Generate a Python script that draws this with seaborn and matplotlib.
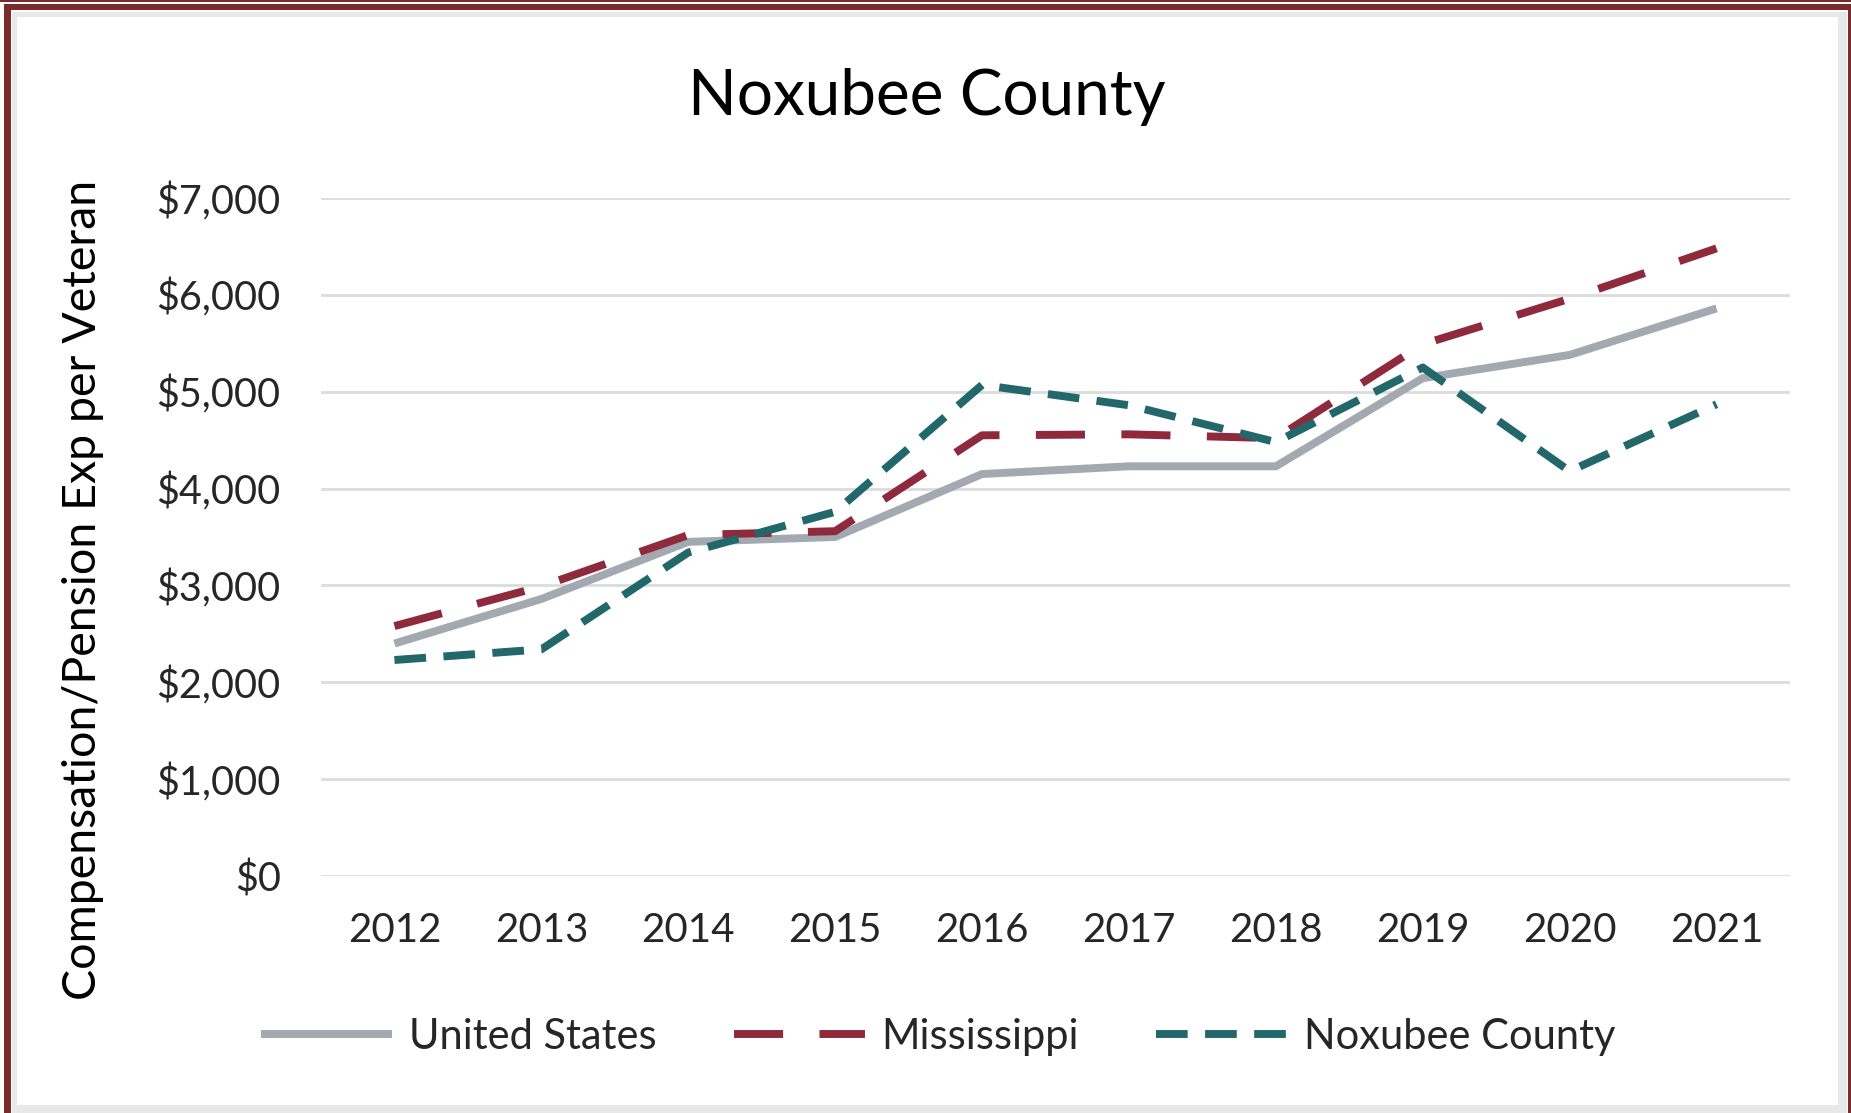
import matplotlib
matplotlib.use("Agg")
import matplotlib.pyplot as plt
import matplotlib.patches as mpatches
import seaborn as sns
import pandas as pd

years = [2012, 2013, 2014, 2015, 2016, 2017, 2018, 2019, 2020, 2021]
united_states = [2400, 2860, 3450, 3500, 4150, 4230, 4230, 5140, 5380, 5860]
mississippi = [2580, 2990, 3520, 3560, 4550, 4560, 4520, 5490, 5960, 6480]
noxubee = [2230, 2340, 3340, 3760, 5070, 4860, 4480, 5250, 4180, 4870]
series_names = ["United States", "Mississippi", "Noxubee County"]
yticks = [0, 1000, 2000, 3000, 4000, 5000, 6000, 7000]
ytick_labels = ["$0", "$1,000", "$2,000", "$3,000", "$4,000", "$5,000", "$6,000", "$7,000"]

df = pd.DataFrame({
    "Year": years * 3,
    "Value": united_states + mississippi + noxubee,
    "Series": [series_names[0]] * len(years) + [series_names[1]] * len(years) + [series_names[2]] * len(years),
})

sns.set_theme(style="white")
FONT = ["Lato", "DejaVu Sans"]
plt.rcParams["font.family"] = FONT

W, H = 1851, 1113
fig = plt.figure(figsize=(W / 100, H / 100), dpi=100)
ax = fig.add_axes([321 / W, 1 - 876 / H, (1790 - 321) / W, (876 - 198) / H])

palette = {"United States": "#A2A9B1", "Mississippi": "#8E2A3B", "Noxubee County": "#22686B"}
dashes = {"United States": "", "Mississippi": (6.2, 4.6), "Noxubee County": (4.0, 2.2)}
LW = 5.7

sns.lineplot(data=df, x="Year", y="Value", hue="Series", style="Series",
             palette=palette, dashes=dashes, linewidth=LW, ax=ax,
             hue_order=series_names, style_order=series_names, legend=True)
for ln in ax.get_lines():
    ln.set_dash_capstyle("butt")
    ln.set_solid_capstyle("butt")
    ln.set_solid_joinstyle("miter")

ax.set_xlim(2011.5, 2021.5)
ax.set_ylim(0, 7000)
ax.set_xticks(years)
ax.set_xticklabels([str(y) for y in years], fontsize=29)
ax.set_yticks(yticks)
ax.set_yticklabels(ytick_labels, fontsize=28.5)
ax.tick_params(axis="y", length=0, pad=29)
ax.tick_params(axis="x", length=0, pad=26)
ax.yaxis.grid(True, color="#DCDCDC", linewidth=2.0)
ax.xaxis.grid(False)
for s in ax.spines.values():
    s.set_visible(False)
ax.set_xlabel("")
ax.set_ylabel("")

handles, labels = ax.get_legend_handles_labels()
if ax.legend_:
    ax.legend_.remove()
leg = fig.legend(handles, labels, loc="center", bbox_to_anchor=(0.507, 1 - 1037 / H),
                 ncol=3, frameon=False, fontsize=30, handlelength=3.15,
                 columnspacing=1.85, handletextpad=0.4)
for lh in leg.get_lines():
    lh.set_linewidth(LW)
    lh.set_dash_capstyle("butt")

fig.text(927 / W, 1 - 97 / H, "Noxubee County", ha="center", va="center", fontsize=46, color="black")
fig.text(83 / W, 1 - 590 / H, "Compensation/Pension Exp per Veteran", ha="center", va="center",
         rotation=90, fontsize=33.5, color="black")

# frame
maroon = "#7A2A2A"
band = "#E8E8E8"
def frect(x0, y0, x1, y1, color):
    fig.patches.append(mpatches.Rectangle((x0 / W, 1 - y1 / H), (x1 - x0) / W, (y1 - y0) / H,
                                          transform=fig.transFigure, facecolor=color,
                                          edgecolor="none", zorder=-5))
frect(0, 0, W, 2, maroon)
frect(4, 4, W, 10, maroon)
frect(4, 4, 11, H, maroon)
frect(1848, 4, W, H, maroon)
frect(12, 12, 1847, 17, band)
frect(12, 12, 17, H, band)
frect(1838, 12, 1847, H, band)
frect(12, 1105, 1847, H, band)

fig.savefig("out.png", dpi=100)
